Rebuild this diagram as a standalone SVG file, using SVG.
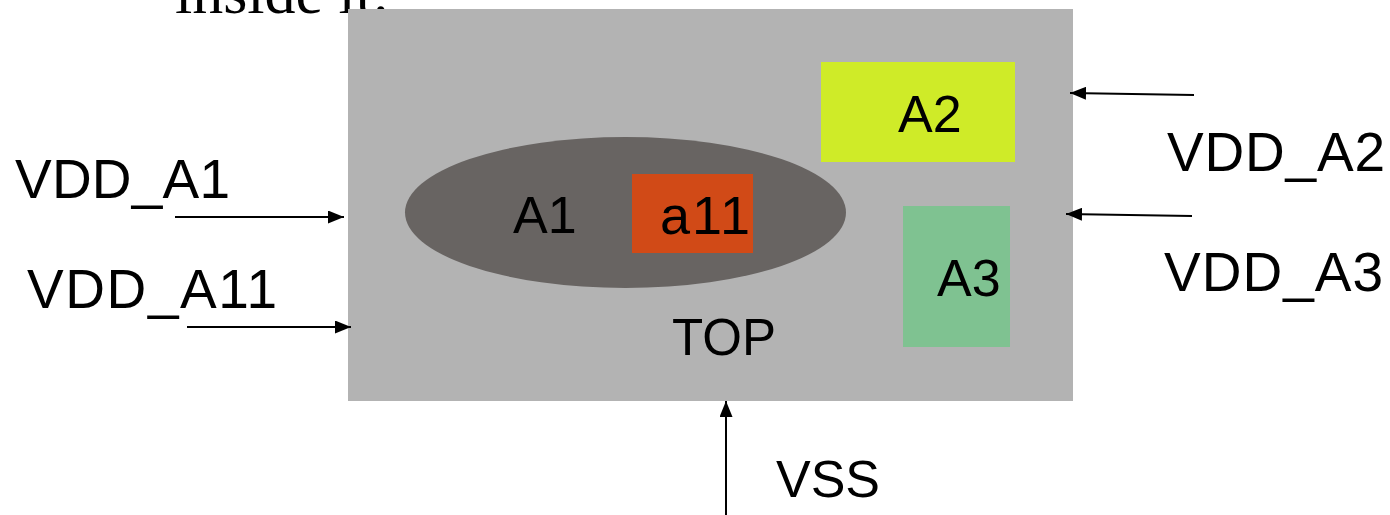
<svg xmlns="http://www.w3.org/2000/svg" width="1390" height="515" viewBox="0 0 1390 515">
<defs>
<marker id="ah" markerWidth="16" markerHeight="13" refX="16" refY="6.5" orient="auto" markerUnits="userSpaceOnUse"><path d="M0,0 L16,6.5 L0,13 Z" fill="#000"/></marker>
<style>
.t{font-family:"Liberation Sans",Arial,sans-serif;fill:#000}
.c{stroke:#000;stroke-width:2;fill:none;marker-end:url(#ah)}
</style>
</defs>
<rect width="1390" height="515" fill="#fff"/>
<text x="175" y="13" font-family="Liberation Serif,serif" font-size="62" fill="#000">inside it.</text>
<g id="top">
<rect x="348" y="9" width="725" height="392" fill="#b3b3b3"/>
<text class="t" x="672" y="355" font-size="51">TOP</text>
</g>
<g id="a1">
<ellipse cx="625.5" cy="212.5" rx="220.5" ry="75.5" fill="#686462"/>
<text class="t" x="513" y="233" font-size="52">A1</text>
</g>
<g id="a11">
<rect x="632" y="174" width="121" height="79" fill="#d14a17"/>
<text class="t" x="660" y="234" font-size="54" textLength="90" lengthAdjust="spacing">a11</text>
</g>
<g id="a2">
<rect x="821" y="62" width="194" height="100" fill="#cfeb28"/>
<text class="t" x="898" y="132" font-size="52">A2</text>
</g>
<g id="a3">
<rect x="903" y="206" width="107" height="141" fill="#7fc291"/>
<text class="t" x="937" y="296" font-size="52">A3</text>
</g>
<g id="labels">
<text class="t" x="15" y="198" font-size="55" textLength="215" lengthAdjust="spacing">VDD_A1</text>
<text class="t" x="27" y="308" font-size="55" textLength="250" lengthAdjust="spacing">VDD_A11</text>
<text class="t" x="1167" y="171" font-size="55" textLength="218" lengthAdjust="spacing">VDD_A2</text>
<text class="t" x="1164" y="291" font-size="55" textLength="219" lengthAdjust="spacing">VDD_A3</text>
<text class="t" x="776" y="497" font-size="52">VSS</text>
</g>
<g id="connectors">
<line class="c" x1="175" y1="217" x2="344" y2="217"/>
<line class="c" x1="187" y1="327" x2="351" y2="327"/>
<line class="c" x1="1194" y1="95" x2="1070" y2="93"/>
<line class="c" x1="1192" y1="216" x2="1066" y2="214"/>
<line class="c" x1="726" y1="515" x2="726" y2="401"/>
</g>
</svg>
